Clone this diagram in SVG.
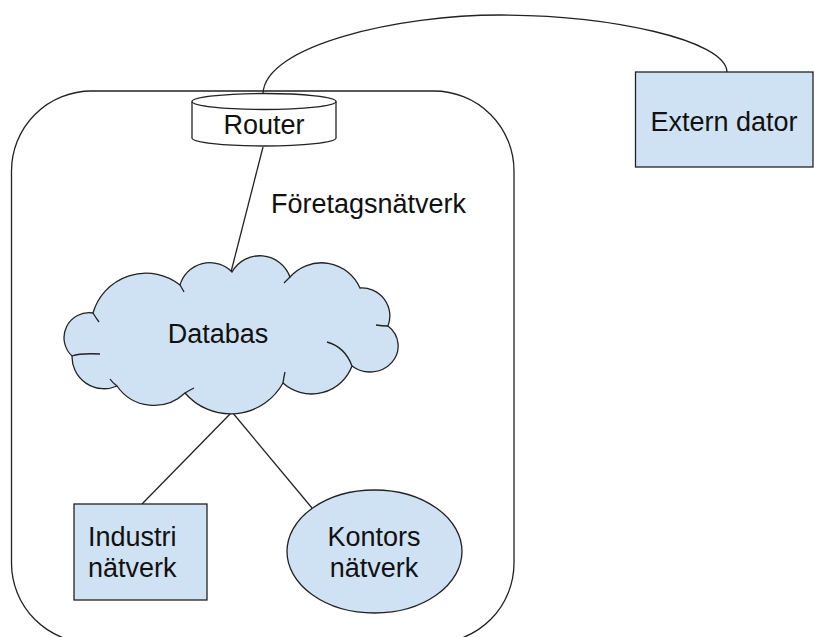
<svg xmlns="http://www.w3.org/2000/svg" width="814" height="637" viewBox="0 0 814 637">
<defs>
<style>
.ln{fill:none;stroke:#222;stroke-width:1.3}
.shape{fill:#cfe2f3;stroke:#222;stroke-width:1.3}
.white{fill:#fff;stroke:#222;stroke-width:1.3}
.t{font-family:"Liberation Sans",Arial,sans-serif;font-size:27px;fill:#111}
.c{text-anchor:middle}
</style>
</defs>
<rect width="814" height="637" fill="#fff"/>
<g id="foretagsnatverk">
<rect class="ln" x="11.5" y="91" width="502.5" height="552" rx="80" ry="80"/>
<text class="t" x="271" y="213">Företagsnätverk</text>
</g>
<g id="connectors">
<path class="ln" d="M263,94 C264,45 400,15 500,15 C610,15 726,40 727,72"/>
<path class="ln" d="M263,147 L231,272"/>
<path class="ln" d="M232,412 L142,504"/>
<path class="ln" d="M232,412 L312,508"/>
</g>
<g id="router">
<path class="white" d="M192,101.5 L192,138 A72,8 0 0 0 336,138 L336,101.5 A72,8 0 0 0 192,101.5 Z"/>
<path class="ln" d="M192,101.5 A72,8 0 0 0 336,101.5"/>
<text class="t c" x="264" y="134">Router</text>
</g>
<g id="extern-dator">
<rect class="shape" x="635.5" y="72" width="177.5" height="95"/>
<text class="t c" x="724" y="131">Extern dator</text>
</g>
<g id="databas">
<path class="shape" d="M93,313 A55,55 0 0 1 180,285 A31,31 0 0 1 232,272 A32,32 0 0 1 290,277 A42,42 0 0 1 360,288 A28,28 0 0 1 388,326 A26,24 0 0 1 352,366 A43,43 0 0 1 283,383 A60,60 0 0 1 185,393 A45,45 0 0 1 117,386 A32,32 0 0 1 72,356 A25,25 0 0 1 93,313 Z"/>
<path class="ln" d="M93,313 Q96,318 99,322"/>
<path class="ln" d="M180,285 Q183,290 184,292"/>
<path class="ln" d="M290,277 Q286,281 284,283"/>
<path class="ln" d="M327,342 Q345,347 352,366"/>
<path class="ln" d="M283,383 Q284,376 285,372"/>
<path class="ln" d="M185,393 Q190,390 194,388"/>
<path class="ln" d="M117,386 Q112,382 110,379"/>
<path class="ln" d="M72,356 Q80,353 100,354"/>
<path class="ln" d="M388,326 Q382,326 376,325"/>
<text class="t c" x="218" y="343">Databas</text>
</g>
<g id="industri">
<rect class="shape" x="74" y="504" width="133" height="96"/>
<text class="t" x="88" y="546">Industri</text>
<text class="t" x="88" y="577">nätverk</text>
</g>
<g id="kontors">
<ellipse class="shape" cx="374.5" cy="551.5" rx="87.5" ry="61.5"/>
<text class="t c" x="374" y="546">Kontors</text>
<text class="t c" x="374" y="577">nätverk</text>
</g>
</svg>
